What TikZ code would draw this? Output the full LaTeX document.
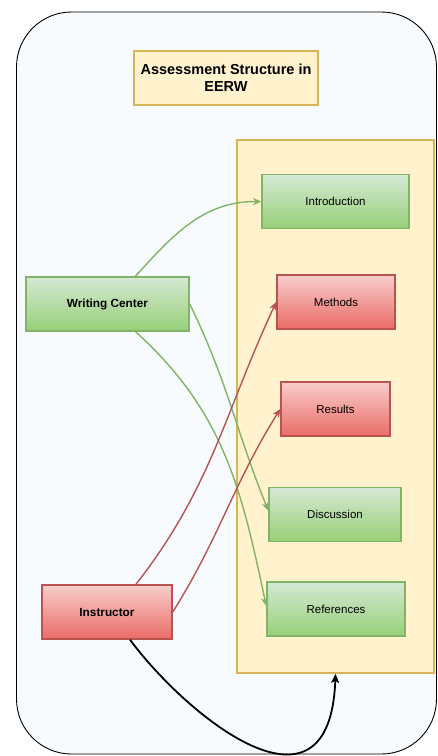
\documentclass[tikz,border=0pt]{standalone}
\usepackage{fontspec}
\setmainfont{Liberation Sans}
\usepackage{xcolor}
\usetikzlibrary{arrows.meta, positioning, calc}
\definecolor{bgsky}{HTML}{F7FBFE}
\definecolor{sandfill}{HTML}{FFF2CC}
\definecolor{sandline}{HTML}{D6B656}
\definecolor{greentop}{HTML}{D5E8D4}
\definecolor{greenbot}{HTML}{97D077}
\definecolor{greenline}{HTML}{82B366}
\definecolor{redtop}{HTML}{F8CECC}
\definecolor{redbot}{HTML}{EA6B66}
\definecolor{redline}{HTML}{B85450}
\tikzset{
  frame/.style={
    rectangle, rounded corners=55pt, draw=black, line width=0.9pt,
    fill=bgsky
  },
  sandbox/.style={
    rectangle, draw=sandline, line width=1.8pt, fill=sandfill,
    inner sep=0pt, align=center
  },
  greenbox/.style={
    rectangle, draw=greenline, line width=1.5pt,
    top color=greentop, bottom color=greenbot,
    minimum width=#1, minimum height=54pt, inner sep=0pt,
    align=center, font=\fontsize{11.5}{13}\selectfont
  },
  redbox/.style={
    rectangle, draw=redline, line width=1.5pt,
    top color=redtop, bottom color=redbot,
    minimum width=#1, minimum height=54pt, inner sep=0pt,
    align=center, font=\fontsize{11.5}{13}\selectfont
  },
  garrow/.style={-{Stealth[length=8pt,width=7pt,inset=2pt]}, line width=1.4pt, draw=greenline},
  rarrow/.style={-{Stealth[length=8pt,width=7pt,inset=2pt]}, line width=1.4pt, draw=redline},
  karrow/.style={-{Stealth[length=9pt,width=8pt,inset=2pt]}, line width=1.8pt, draw=black}
}
\begin{document}
\begin{tikzpicture}[x=1pt, y=-1pt]
  \useasboundingbox (0,0) rectangle (437,756);
  \node[frame, minimum width=420pt, minimum height=742pt] (frame) at (226.5,383) {};

  \node[sandbox, minimum width=184pt, minimum height=54pt,
        font=\fontsize{14.5}{17}\selectfont\bfseries] (title) at (226,78)
        {Assessment Structure in\\EERW};
  \node[sandbox, minimum width=197pt, minimum height=533pt] (body) at (335.5,406.5) {};

  \node[greenbox=147pt] (intro) at (335.5,201.5) {Introduction};
  \node[redbox=118pt] (methods) at (336,302) {Methods};
  \node[redbox=109pt] (results) at (335.5,409) {Results};
  \node[greenbox=132pt] (disc) at (335,514.5) {Discussion};
  \node[greenbox=138pt] (refs) at (336,609) {References};

  \node[greenbox=163pt, font=\fontsize{11.8}{13}\selectfont\bfseries] (wc) at (107.5,304) {Writing Center};
  \node[redbox=130pt, font=\fontsize{11.8}{13}\selectfont\bfseries] (instr) at (107,612) {Instructor};

  \draw[garrow] ([xshift=28pt]wc.north) to[out=48, in=180] (intro.west);
  \draw[garrow] (wc.east) to[out=-64, in=112] ([yshift=4pt]disc.west);
  \draw[garrow] ([xshift=28pt]wc.south) to[out=-42, in=102] ([yshift=3pt]refs.west);
  \draw[rarrow] ([xshift=29pt]instr.north) to[out=52, in=245] (methods.west);
  \draw[rarrow] (instr.east) to[out=58, in=238] (results.west);
  \draw[karrow] ([xshift=23pt]instr.south) .. controls (190,720) and (330,830) .. (body.south);
\end{tikzpicture}
\end{document}
